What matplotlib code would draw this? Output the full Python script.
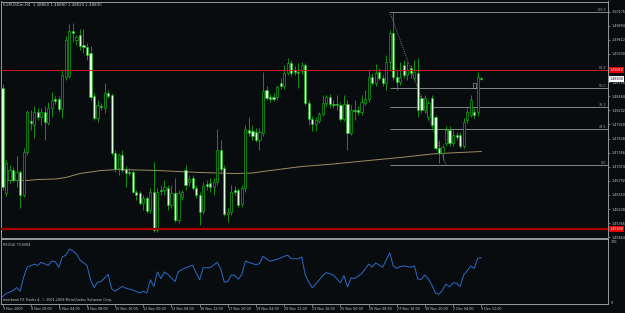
import numpy as np
import matplotlib
matplotlib.use("Agg")
import matplotlib.pyplot as plt
from matplotlib.patches import Rectangle

# EURUSD H4 candles
opens = [1.4865, 1.4655, 1.4681, 1.4701, 1.4681, 1.4697, 1.4651, 1.4737, 1.4799, 1.4791,
         1.4817, 1.4807, 1.4817, 1.4795, 1.4825, 1.4843, 1.4843, 1.4823, 1.4887, 1.4889,
         1.4979, 1.4961, 1.4971, 1.4951, 1.4947, 1.4935, 1.4849, 1.4805, 1.4829, 1.4825,
         1.4855, 1.4851, 1.4735, 1.4705, 1.4731, 1.4703, 1.4697, 1.4697, 1.4657, 1.4655,
         1.4635, 1.4645, 1.4621, 1.4657, 1.4581, 1.4661, 1.4661, 1.4665, 1.4631, 1.4655,
         1.4601, 1.4647, 1.4701, 1.4677, 1.4685, 1.4665, 1.4651, 1.4619, 1.4673, 1.4675,
         1.4667, 1.4677, 1.4741, 1.4705, 1.4613, 1.4617, 1.4661, 1.4661, 1.4633, 1.4665,
         1.4781, 1.4779, 1.4777, 1.4761, 1.4775, 1.4861, 1.4847, 1.4847, 1.4847, 1.4875,
         1.4869, 1.4895, 1.4915, 1.4901, 1.4897, 1.4899, 1.4911, 1.4835, 1.4803, 1.4793,
         1.4799, 1.4813, 1.4835, 1.4847, 1.4833, 1.4833, 1.4831, 1.4803, 1.4833, 1.4775,
         1.4821, 1.4821, 1.4817, 1.4835, 1.4843, 1.4887, 1.4875, 1.4897, 1.4885, 1.4875,
         1.4917, 1.4975, 1.4887, 1.4877, 1.4911, 1.4891, 1.4905, 1.4885, 1.4895, 1.4845,
         1.4821, 1.4807, 1.4845, 1.4807, 1.4745, 1.4735, 1.4755, 1.4781, 1.4755, 1.4771,
         1.4771, 1.4749, 1.4801, 1.4811, 1.4817, 1.4817, 1.4886]
highs = [1.4873, 1.4721, 1.4711, 1.4707, 1.4729, 1.4701, 1.4745, 1.4821, 1.4821, 1.4829,
         1.4825, 1.4825, 1.4829, 1.4837, 1.4857, 1.4849, 1.4849, 1.4901, 1.4969, 1.4993,
         1.4995, 1.4971, 1.4983, 1.4983, 1.4955, 1.4949, 1.4855, 1.4841, 1.4835, 1.4875,
         1.4861, 1.4855, 1.4741, 1.4735, 1.4741, 1.4709, 1.4705, 1.4701, 1.4661, 1.4659,
         1.4651, 1.4649, 1.4665, 1.4717, 1.4665, 1.4671, 1.4681, 1.4671, 1.4671, 1.4685,
         1.4661, 1.4661, 1.4711, 1.4691, 1.4691, 1.4671, 1.4657, 1.4677, 1.4681, 1.4685,
         1.4685, 1.4783, 1.4761, 1.4711, 1.4625, 1.4671, 1.4669, 1.4665, 1.4671, 1.4791,
         1.4807, 1.4791, 1.4785, 1.4785, 1.4897, 1.4869, 1.4853, 1.4855, 1.4871, 1.4885,
         1.4911, 1.4925, 1.4921, 1.4909, 1.4915, 1.4917, 1.4915, 1.4841, 1.4809, 1.4807,
         1.4817, 1.4851, 1.4851, 1.4853, 1.4841, 1.4851, 1.4837, 1.4851, 1.4841, 1.4831,
         1.4841, 1.4829, 1.4851, 1.4861, 1.4901, 1.4895, 1.4913, 1.4905, 1.4891, 1.4931,
         1.4981, 1.5017, 1.4901, 1.4917, 1.4921, 1.4917, 1.4911, 1.4921, 1.4925, 1.4851,
         1.4851, 1.4841, 1.4851, 1.4811, 1.4761, 1.4753, 1.4789, 1.4789, 1.4781, 1.4777,
         1.4777, 1.4805, 1.4825, 1.4851, 1.4825, 1.4897, 1.4888]
lows = [1.4661, 1.4649, 1.4675, 1.4677, 1.4667, 1.4625, 1.4647, 1.4731, 1.4781, 1.4765,
        1.4801, 1.4791, 1.4761, 1.4791, 1.4807, 1.4833, 1.4817, 1.4805, 1.4881, 1.4885,
        1.4957, 1.4951, 1.4941, 1.4935, 1.4921, 1.4841, 1.4801, 1.4797, 1.4821, 1.4815,
        1.4845, 1.4731, 1.4697, 1.4691, 1.4697, 1.4667, 1.4689, 1.4655, 1.4641, 1.4631,
        1.4621, 1.4615, 1.4615, 1.4577, 1.4577, 1.4651, 1.4651, 1.4621, 1.4625, 1.4597,
        1.4595, 1.4641, 1.4661, 1.4669, 1.4661, 1.4645, 1.4591, 1.4613, 1.4661, 1.4657,
        1.4651, 1.4671, 1.4697, 1.4609, 1.4597, 1.4611, 1.4651, 1.4627, 1.4627, 1.4657,
        1.4769, 1.4761, 1.4757, 1.4741, 1.4769, 1.4841, 1.4837, 1.4839, 1.4841, 1.4863,
        1.4863, 1.4891, 1.4889, 1.4891, 1.4865, 1.4893, 1.4831, 1.4791, 1.4779, 1.4779,
        1.4795, 1.4809, 1.4829, 1.4825, 1.4825, 1.4821, 1.4799, 1.4799, 1.4741, 1.4771,
        1.4801, 1.4811, 1.4811, 1.4831, 1.4837, 1.4871, 1.4869, 1.4881, 1.4869, 1.4861,
        1.4901, 1.4881, 1.4861, 1.4871, 1.4885, 1.4881, 1.4885, 1.4881, 1.4807, 1.4815,
        1.4815, 1.4801, 1.4785, 1.4741, 1.4715, 1.4721, 1.4749, 1.4749, 1.4749, 1.4761,
        1.4745, 1.4745, 1.4795, 1.4807, 1.4805, 1.4809, 1.4882]
closes = [1.4667, 1.4715, 1.4701, 1.4681, 1.4697, 1.4651, 1.4737, 1.4817, 1.4795, 1.4817,
          1.4807, 1.4817, 1.4797, 1.4825, 1.4841, 1.4839, 1.4823, 1.4891, 1.4961, 1.4979,
          1.4975, 1.4967, 1.4949, 1.4947, 1.4931, 1.4847, 1.4805, 1.4831, 1.4827, 1.4855,
          1.4849, 1.4735, 1.4703, 1.4731, 1.4701, 1.4695, 1.4695, 1.4657, 1.4651, 1.4635,
          1.4645, 1.4619, 1.4657, 1.4581, 1.4657, 1.4659, 1.4667, 1.4631, 1.4655, 1.4601,
          1.4655, 1.4657, 1.4671, 1.4683, 1.4665, 1.4651, 1.4617, 1.4669, 1.4669, 1.4667,
          1.4677, 1.4741, 1.4703, 1.4613, 1.4617, 1.4657, 1.4657, 1.4631, 1.4665, 1.4783,
          1.4775, 1.4769, 1.4761, 1.4777, 1.4859, 1.4845, 1.4843, 1.4843, 1.4867, 1.4869,
          1.4895, 1.4915, 1.4895, 1.4897, 1.4895, 1.4911, 1.4835, 1.4803, 1.4793, 1.4801,
          1.4813, 1.4835, 1.4847, 1.4833, 1.4831, 1.4831, 1.4803, 1.4833, 1.4775, 1.4821,
          1.4819, 1.4817, 1.4837, 1.4843, 1.4887, 1.4875, 1.4895, 1.4885, 1.4875, 1.4917,
          1.4975, 1.4887, 1.4877, 1.4887, 1.4891, 1.4901, 1.4895, 1.4897, 1.4821, 1.4821,
          1.4845, 1.4835, 1.4791, 1.4745, 1.4735, 1.4747, 1.4781, 1.4755, 1.4771, 1.4767,
          1.4749, 1.4797, 1.4817, 1.4841, 1.4811, 1.4887, 1.4883]

# moving average (read at some bars)
ma_idx = [0, 7, 10, 15, 18, 22, 28, 33, 44, 50, 56, 66, 71, 75, 85, 94, 104, 113, 122, 127, 136]
ma_val = [1.4680, 1.4680, 1.4682, 1.4683, 1.4686, 1.4694, 1.4700, 1.4702, 1.4700, 1.4698,
          1.4696, 1.4694, 1.4695, 1.4699, 1.4708, 1.4713, 1.4720, 1.4726, 1.4733, 1.4735, 1.4738]

# RSI(14)
rsi_idx = [0, 1, 3, 4, 5, 6, 7, 9, 10, 11, 13, 14, 15, 16, 17, 18, 19, 20, 21, 22,
           24, 25, 26, 27, 28, 30, 31, 32, 34, 35, 37, 39, 40, 41, 42, 43, 44, 45, 46, 47,
           49, 50, 52, 54, 56, 57, 59, 61, 62, 63, 64, 65, 66, 67, 68, 69, 70, 72, 73, 74,
           76, 78, 80, 81, 82, 84, 85, 86, 87, 88, 89, 91, 92, 94, 96, 97, 98, 99, 100, 102,
           104, 105, 106, 108, 109, 110, 111, 112, 113, 114, 116, 117, 118, 119, 120, 121, 122, 123, 124, 125,
           126, 127, 128, 129, 130, 131, 132, 133, 134, 135, 136]
rsi_val = [9, 14, 19, 24, 18, 41, 58, 63, 61, 66, 61, 68, 67, 58, 75, 78, 88, 85, 80, 70,
           61, 37, 24, 33, 34, 46, 22, 18, 26, 23, 20, 15, 18, 15, 37, 26, 50, 39, 50, 46,
           34, 51, 57, 61, 37, 57, 57, 66, 55, 33, 34, 45, 44, 38, 46, 68, 66, 62, 64, 76,
           68, 71, 76, 78, 72, 72, 75, 45, 33, 24, 30, 44, 49, 45, 32, 44, 25, 40, 39, 47,
           63, 58, 65, 58, 70, 82, 60, 56, 59, 60, 58, 60, 38, 38, 45, 38, 28, 15, 13, 20,
           30, 25, 32, 31, 26, 45, 52, 60, 56, 73, 73.6]

# fibonacci retracement and horizontal levels
fib_high, fib_low = 1.5017, 1.4711
fib_start, fib_end = 110, 126
fib_ratios = [0.0, 23.6, 38.2, 50.0, 61.8, 100.0]
resistance = 1.4901
support = 1.4583
last_price = 1.4883
marker_idx, marker_price = 134, 1.4870

price_ticks = [1.50176, 1.49894, 1.49612, 1.49330, 1.48766, 1.48484, 1.48202, 1.47920,
               1.47638, 1.47356, 1.47074, 1.46792, 1.46510, 1.46228, 1.45946, 1.45664]
time_idx = [0, 8, 16, 24, 32, 40, 48, 56, 64, 72, 80, 88, 96, 104, 112, 120, 128, 136]
time_labels = ["3 Nov 2009", "4 Nov 20:00", "6 Nov 04:00", "9 Nov 08:00", "10 Nov 16:00",
               "12 Nov 00:00", "13 Nov 08:00", "16 Nov 12:00", "17 Nov 20:00", "19 Nov 04:00",
               "20 Nov 12:00", "23 Nov 16:00", "25 Nov 00:00", "26 Nov 08:00", "27 Nov 16:00",
               "30 Nov 20:00", "2 Dec 04:00", "3 Dec 12:00"]

BG = "#080c0e"
GREEN = "#12a812"
BEAR = "#dcffdc"
GRID = "#9a9a9a"
TXT = "#c4c4c4"
FS = 2.4

W, H = 625, 313
fig = plt.figure(figsize=(6.25, 3.13), dpi=100, facecolor=BG)
ax = fig.add_axes([0.5 / W, (H - 237.5) / H, 607.5 / W, 236 / H], facecolor=BG)
ax2 = fig.add_axes([0.5 / W, 9 / H, 607.5 / W, 65.5 / H], facecolor=BG, sharex=ax)

o, h, l, c = map(np.array, (opens, highs, lows, closes))
idx = np.arange(len(c))
up = c >= o

ax.vlines(idx, l, h, color=GREEN, lw=0.6, zorder=2)
ax.bar(idx[up], (c - o)[up], bottom=o[up], width=0.62, color=BG, edgecolor=GREEN, lw=0.5, zorder=3)
ax.bar(idx[~up], (o - c)[~up], bottom=c[~up], width=0.62, color=BEAR, edgecolor=GREEN, lw=0.5, zorder=3)

ax.plot(ma_idx, ma_val, color="#a08c62", lw=0.7, zorder=1)

# fibo
xmax = 172.0
levels = [fib_low + r / 100 * (fib_high - fib_low) for r in fib_ratios]
ax.hlines(levels, fib_start, xmax, color=GRID, lw=0.6, zorder=1)
for r, lv in zip(fib_ratios, levels):
    ax.text(xmax - 0.4, lv, f"{r:.1f}", color=GRID, fontsize=FS, ha="right", va="bottom")
ax.plot([fib_start, fib_end], [fib_high, fib_low], color=GRID, lw=0.6, ls=(0, (1, 1.5)), zorder=1)

ax.axhline(resistance, color="#d01818", lw=0.7, zorder=4)
ax.axhline(support, color="#a80000", lw=1.6, zorder=4)
ax.add_patch(Rectangle((marker_idx - 0.4, marker_price - 0.0005), 0.8, 0.001,
                       fill=False, edgecolor=GRID, lw=0.5, zorder=5))

ax.set_xlim(-0.57, xmax)
ax.set_ylim(1.4566, 1.5038)
ax.yaxis.tick_right()
ax.set_yticks(price_ticks)
ax.set_yticklabels([f"{p:.5f}" for p in price_ticks])
ax.tick_params(axis="y", colors=GRID, labelcolor=TXT, labelsize=FS, length=1.5, width=0.5, pad=0.8)
ax.tick_params(axis="x", bottom=False, labelbottom=False)

for val, fc, tc in [(resistance, "#e00000", "white"), (support, "#e00000", "white"),
                    (last_price, "white", "black")]:
    ax.text(1.0025, val, f"{val:.5f}", transform=ax.get_yaxis_transform(), fontsize=FS,
            color=tc, va="center", ha="left",
            bbox=dict(boxstyle="square,pad=0.2", fc=fc, ec="none"), clip_on=False, zorder=6)

ax.text(0.004, 0.993, "EURUSDm,H4  1.48860 1.48880 1.48820 1.48830", transform=ax.transAxes,
        color=TXT, fontsize=2.9, va="top", ha="left")

# RSI window
ax2.plot(rsi_idx, rsi_val, color="#2a6cc8", lw=0.7)
ax2.set_ylim(-3.3, 105.7)
ax2.yaxis.tick_right()
ax2.set_yticks([0, 100])
ax2.set_yticklabels(["0", "100"])
ax2.tick_params(axis="y", length=0, labelcolor=TXT, labelsize=FS, pad=2)
ax2.set_xticks(time_idx)
ax2.set_xticklabels(time_labels)
for t in ax2.get_xticklabels():
    t.set_ha("left")
ax2.tick_params(axis="x", colors=GRID, labelcolor=TXT, labelsize=FS, length=2, width=0.5, pad=0.5)
ax2.text(0.004, 0.93, "RSI(14) 73.6084", transform=ax2.transAxes, color=TXT, fontsize=FS,
         va="top", ha="left")
ax2.text(0.004, 0.03, "Interbank FX Trader 4, \u00a9 2001-2009 MetaQuotes Software Corp.",
         transform=ax2.transAxes, color=TXT, fontsize=FS, va="bottom", ha="left")

for a in (ax, ax2):
    for s in a.spines.values():
        s.set_color(GRID)
        s.set_linewidth(0.7)

fig.savefig("out.png", dpi=100, facecolor=BG)
